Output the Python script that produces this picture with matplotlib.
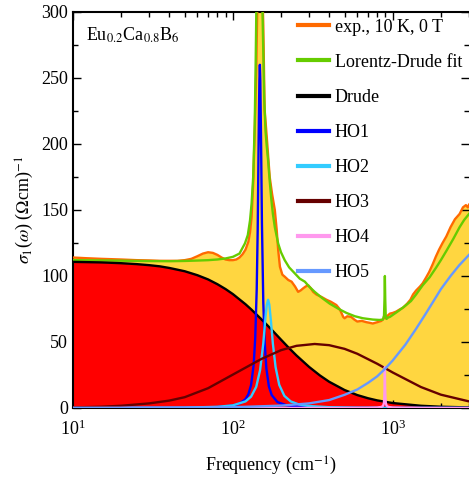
import numpy as np
import matplotlib
matplotlib.use("Agg")
import matplotlib.pyplot as plt
from matplotlib.ticker import MultipleLocator, LogLocator, NullFormatter

plt.rcParams['font.family'] = ['Liberation Serif', 'DejaVu Serif']
plt.rcParams['mathtext.fontset'] = 'stix'

# ---------------- data ----------------
exp_freq = [10, 12, 15, 20, 25, 30, 35, 40, 45, 50, 55, 60, 65, 70, 75, 80, 85, 90, 95, 100,
            105, 110, 115, 120, 125, 128, 131, 134, 137, 140, 142, 144, 152, 155, 158, 163,
            170, 176, 183, 188, 192, 197, 204, 211, 222, 233, 245, 256, 265, 275, 285, 296,
            306, 318, 333, 360, 385, 410, 444, 465, 478, 490, 500, 520, 550, 575, 600, 640,
            685, 720, 750, 800, 850, 878, 888, 900, 930, 960, 1000, 1050, 1100, 1160, 1230,
            1290, 1340, 1400, 1480, 1540, 1620, 1690, 1780, 1860, 1950, 2050, 2165, 2300,
            2450, 2620, 2750, 2870, 2950, 3000]
exp_sigma = [114, 113.5, 113, 112.5, 112, 111.8, 111.5, 111.5, 111.5, 112, 113, 115, 117, 118,
             117.5, 116, 114, 112.5, 112, 112, 112.5, 114, 116.5, 120, 126, 133, 145, 170, 210,
             255, 300, 330, 330, 290, 226, 205, 175, 162, 150, 135, 120, 107, 101, 99.5, 97,
             95.7, 92, 88, 89, 90.6, 92, 93, 91, 88, 86, 84, 82, 80.5, 78, 75, 72, 69, 68,
             69.5, 69, 67, 65.5, 66, 65, 64.5, 64, 65, 66, 68, 71, 68, 70, 71.5, 72, 73, 74.5,
             76, 79, 82, 86, 89, 92, 94.5, 99, 103, 109, 114.6, 120, 125, 130, 137, 143, 147,
             152, 153.7, 152, 154]

fit_freq = [10, 20, 30, 40, 50, 60, 70, 80, 90, 100, 110, 119, 124, 128, 131, 134, 137, 139,
            140.5, 142, 147.5, 150, 153, 155, 157, 160, 163, 166, 170, 174, 178, 183, 192, 200,
            211, 225, 244, 262, 282, 300, 325, 360, 404, 460, 514, 580, 650, 750, 828, 870,
            882, 888, 893, 898, 904, 915, 935, 960, 1000, 1100, 1200, 1300, 1400, 1540, 1700,
            1860, 2000, 2165, 2390, 2620, 2800, 3000]
fit_sigma = [112, 111.6, 111.3, 111.2, 111.4, 111.7, 112, 112.5, 113.3, 114.5, 117, 124.7, 131,
             142, 155, 175, 215, 265, 310, 350, 385, 370, 305, 270, 235, 210, 198, 188, 172,
             158, 147, 137, 124.7, 118, 112, 106.5, 102, 98, 95.7, 92, 88, 83.5, 79, 75, 72,
             69.5, 68, 67, 66.7, 67, 70, 82, 100, 82, 70, 67.5, 68.5, 69, 70.5, 74, 77.5, 81,
             86, 93, 99, 106, 112, 119, 128, 137, 142.5, 147]

drude_freq = [10, 15, 20, 25, 30, 35, 40, 50, 60, 70, 80, 90, 100, 120, 130, 150, 160, 180,
              200, 225, 250, 300, 350, 400, 500, 600, 700, 800, 1000, 1500, 2000, 3000]
drude_sigma = [110.7, 110.3, 109.7, 109.0, 108.2, 107.3, 106.1, 103.6, 100.6, 97.4, 93.8, 90.1,
               86.3, 78.6, 74.8, 67.5, 64.1, 57.7, 51.8, 45.3, 39.8, 31.1, 24.7, 19.9, 13.6,
               9.8, 7.4, 5.75, 3.75, 1.7, 0.96, 0.43]

ho1_freq = [10, 50, 80, 100, 110, 120, 125, 130, 135, 138, 141, 143, 145, 146.5, 147.5, 148.5,
            150, 152, 155, 158, 162, 168, 175, 190, 220, 300, 500, 1000, 3000]
ho1_sigma = [0.006, 0.18, 0.7, 1.9, 3.3, 6.7, 10.4, 17.4, 33, 53, 90, 135, 205, 248, 260, 248,
             205, 140, 80, 50, 30, 16.4, 9.8, 4.5, 1.8, 0.5, 0.12, 0.03, 0.003]

ho2_freq = [10, 50, 80, 100, 120, 130, 140, 148, 155, 160, 163, 166, 169, 173, 178, 185, 195,
            210, 230, 260, 300, 400, 600, 1000, 3000]
ho2_sigma = [0.01, 0.26, 0.9, 2.0, 5.0, 8.6, 16, 28.7, 49, 69, 78, 82, 78.5, 66, 48.6, 31,
             17.5, 9.2, 5.0, 2.6, 1.5, 0.6, 0.2, 0.07, 0.01]

ho3_freq = [10, 15, 20, 30, 40, 50, 70, 100, 150, 200, 250, 325, 400, 500, 600, 800, 1000,
            1500, 2000, 3000]
ho3_sigma = [0.43, 0.96, 1.7, 3.5, 5.6, 8.2, 15, 25.3, 37, 43.8, 47.1, 48.5, 47.6, 44.8, 41.1,
             33.5, 26.9, 15.9, 10.1, 5.0]

ho4_freq = [10, 500, 700, 800, 850, 870, 880, 886, 890, 893, 896, 900, 906, 916, 940, 1000,
            1200, 3000]
ho4_sigma = [0, 0.05, 0.15, 0.35, 0.8, 1.6, 3.5, 8, 18, 31, 18, 8, 3.5, 1.6, 0.8, 0.35, 0.12,
             0.02]

ho5_freq = [10, 50, 100, 200, 300, 400, 500, 600, 700, 800, 900, 1000, 1200, 1400, 1600, 1800,
            2000, 2300, 2600, 3000]
ho5_sigma = [0.05, 0.2, 0.6, 1.8, 3.5, 6, 10, 14, 19, 24, 30, 36, 48, 60, 71, 81, 90, 100, 108,
             116]

labels = ['exp., 10 K, 0 T', 'Lorentz-Drude fit', 'Drude', 'HO1', 'HO2', 'HO3', 'HO4', 'HO5']
colors = ['#FF6A00', '#66CC00', '#000000', '#0000FF', '#33CCFF', '#660000', '#FF99EE',
          '#6699FF']

# ---------------- figure ----------------
fig = plt.figure(figsize=(4.69, 4.78), dpi=100)
ax = fig.add_axes([73 / 469, 70 / 478, 396 / 469, 396 / 478])

ax.fill_between(exp_freq, 0, exp_sigma, color='#FFD640', lw=0, zorder=1)
ax.fill_between(drude_freq, 0, drude_sigma, color='#FF0000', lw=0, zorder=2)

series = [(exp_freq, exp_sigma), (fit_freq, fit_sigma), (drude_freq, drude_sigma),
          (ho1_freq, ho1_sigma), (ho2_freq, ho2_sigma), (ho3_freq, ho3_sigma),
          (ho4_freq, ho4_sigma), (ho5_freq, ho5_sigma)]
for i, ((fx, fy), lab, col) in enumerate(zip(series, labels, colors)):
    ax.plot(fx, fy, color=col, lw=1.7, label=lab, zorder=3 + i, solid_joinstyle='round')

ax.set_xscale('log')
ax.set_xlim(10, 3000)
ax.set_ylim(0, 300)
ax.yaxis.set_major_locator(MultipleLocator(50))
ax.yaxis.set_minor_locator(MultipleLocator(25))
ax.xaxis.set_minor_locator(LogLocator(base=10, subs=np.arange(2, 10)))
ax.xaxis.set_minor_formatter(NullFormatter())
ax.tick_params(which='both', direction='in', top=True, right=True, labelsize=13, width=1)
ax.tick_params(which='major', length=6)
ax.tick_params(which='minor', length=3.5)
ax.tick_params(axis='x', which='major', pad=8)
for s in ax.spines.values():
    s.set_linewidth(1.5)
ax.spines['right'].set_visible(False)

ax.set_xlabel('Frequency (cm$^{-1}$)', fontsize=13, labelpad=12)
ax.set_ylabel(r'$\sigma_1$($\omega$) ($\Omega$cm)$^{-1}$', fontsize=13, labelpad=4)

ax.text(0.033, 0.965, r'Eu$_{0.2}$Ca$_{0.8}$B$_6$', transform=ax.transAxes, fontsize=13,
        va='top', ha='left')

leg = ax.legend(loc='upper left', bbox_to_anchor=(0.568, 0.983), frameon=False,
                fontsize=13, handlelength=1.72, handletextpad=0.33, labelspacing=1.0,
                borderpad=0, borderaxespad=0)
for h in leg.get_lines():
    h.set_linewidth(3)

fig.savefig('out.png', dpi=100)
